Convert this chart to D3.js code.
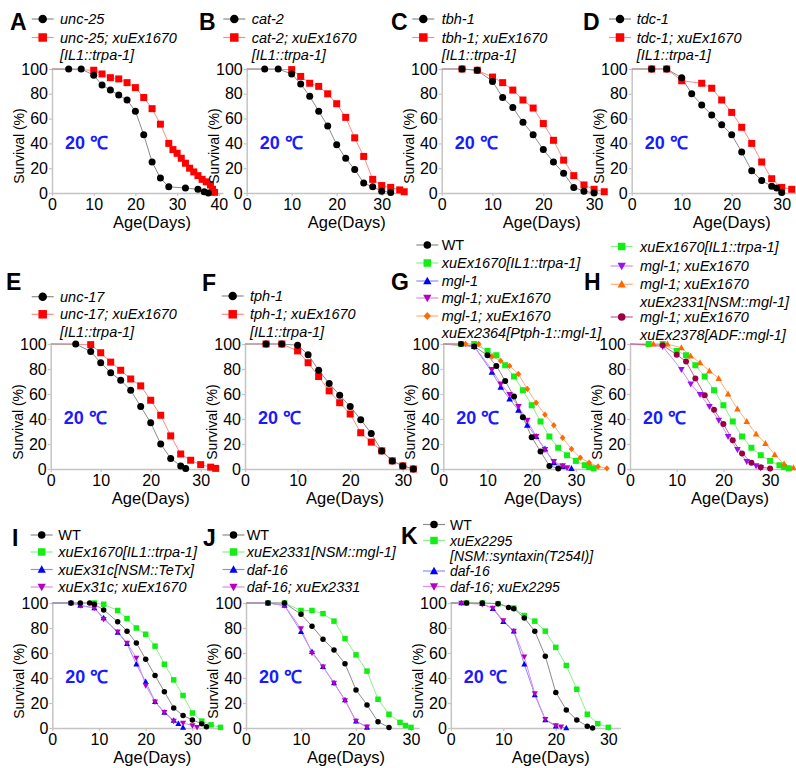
<!DOCTYPE html>
<html>
<head>
<meta charset="utf-8">
<script src="https://cdn.jsdelivr.net/npm/d3@7"></script>
<style>
  body { margin: 0; background: #fff; }
  svg { display: block; }
  text { font-family: "Liberation Sans", Arial, sans-serif; }
</style>
</head>
<body>
<div id="chart"></div>
<script>
// Survival curves, [day, % alive]

// A
const aUnc25 = [[0,100],[4,100],[7,100],[10,95],[12,87],[14,83],[16,79],[18,75],[20,66],[22,47],[24,25],[26,12],[28,5],[32,4],[35,3],[36.5,1],[37.5,0]];
const aUnc25Ex = [[0,100],[10,99],[12,96],[14,93],[16,92],[18,89],[20,85],[22,77],[24,68],[26,55.5],[28,40],[29,35],[30,32],[31,28],[32,24],[33,20],[34,17],[35,14],[36,11],[37,9],[38,6.5],[38.5,3],[39,0.5]];
// B
const bCat2 = [[0,100],[4,100],[7,100],[10,96],[12,88],[14,78],[16,66],[18,54],[20,39],[22,28],[24,19],[26,8],[28,5],[30,1.5],[32,0.5]];
const bCat2Ex = [[0,100],[10,99.5],[12,94],[14,88.5],[16,86],[18,80],[20,72],[22,61],[24,44.5],[26,29.5],[28,11],[30,6],[32,4.5],[34,2.5],[35,1]];
// C
const cTbh1 = [[0,100],[4,100],[7,99],[10,90],[12,77],[14,69],[16,57],[18,47],[20,35],[22,25],[24,16],[26,4.5],[28,1.5],[30,0]];
const cTbh1Ex = [[0,100],[4,100],[7,99],[10,93.5],[12,89],[14,83],[16,75],[18,68.5],[20,56],[22,42.5],[24,26.5],[26,14],[28,6.5],[30,3],[32,1]];
// D
const dTdc1 = [[0,100],[4,100],[7,100],[10,93],[12,80],[14,71],[16,63],[18,55],[20,47],[22,33],[24,18],[26,10],[28,5.5],[29,4],[30,0.5]];
const dTdc1Ex = [[0,100],[4,100],[7,100],[10,90.5],[14,88.5],[16,84.5],[18,75],[20,65],[22,53],[24,40],[26,25],[28,11.5],[30,4.5],[32,3]];
// E
const eUnc17 = [[0,100],[5,100],[8,94],[10,85],[12,77],[14,71],[16,63],[18,50],[20,37],[22,20],[24,8.5],[26,2.5],[27,0.5]];
const eUnc17Ex = [[0,100],[8,99.5],[10,93],[12,85.5],[14,79],[16,72],[18,66.5],[20,55],[22,43],[24,26.5],[26,12],[28,7],[30,3.5],[32,1.5],[33,0.5]];
// F
const fTph1 = [[0,100],[4,100],[7,100],[10,99],[12,91.5],[14,79],[16,68.5],[18,59],[20,50],[22,39.5],[24,28.5],[26,14.5],[28,6.5],[30,2.5],[32,0]];
const fTph1Ex = [[0,100],[4,100],[7,100],[10,94.5],[12,85],[14,74],[16,62.5],[18,53],[20,44],[22,29],[24,21.5],[26,14.5],[28,6.5],[30,2.5],[32,0]];
// G and H (shared strains)
const ghWT = [[0,100],[4,100],[7,98],[10,91],[12,82.5],[14,70.5],[16,58],[18,41.5],[20,25.5],[22,14],[24,2.5],[26,0.5]];
const ghTrpa = [[0,100],[4,100],[7,100],[10,94.5],[12,91],[14,83],[16,74],[18,63],[20,51],[22,38],[24,26],[26,17],[28,11],[30,6.5],[32,3],[33,1.5],[34,0.5]];
const gMgl1 = [[0,100],[7,98],[11,77.5],[13,65.5],[15,56],[17,47],[19,35],[21,26],[23,16],[25,5],[27,2],[29,0.5]];
const ghMglTrpa = [[0,100],[7,98],[11,79.5],[13,68],[15,59.5],[17,50],[19,39],[21,26],[23,15.5],[25,6],[27,2.5],[28,1]];
const gRescueTph = [[0,100],[5,100],[8,100],[11,90],[13,86.5],[15,82.5],[17,76],[19,64],[21,53],[23,43.5],[25,35],[27,25],[29,16],[31,9],[33,5],[35,2],[37,0.5]];
const hRescueNsm = [[0,100],[5,100],[8,100],[11,97],[13,90.5],[15,85],[17,78.5],[19,72.5],[21,60],[23,48],[25,38],[27,28],[29,20.5],[31,11.5],[33,4],[35,1]];
const hRescueAdf = [[0,100],[7,99],[10,91.5],[12,86],[14,72.5],[16,59],[18,47.5],[20,36],[22,23],[24,12.5],[26,5],[28,1.5],[30,0.5]];
// I
const iWT = [[0,100],[4,100],[6,100],[8,100],[9,99],[11,94.5],[14,85],[16,77.5],[18,68],[20,55],[22,42],[24,29],[26,16],[28,10],[30,6.5],[32,3.5],[33,1]];
const iTrpa = [[0,100],[9,100],[11,99],[14,94],[16,87.5],[18,80],[20,75],[22,65.5],[24,51],[26,38.5],[28,26],[30,12],[32,5.5],[34,2.5],[36,0.5]];
const iTeTx = [[0,100],[4,100],[6,98],[9,96],[11,88],[14,76.5],[16,67.5],[18,51],[20,37],[22,21],[24,12.5],[26,6],[27,3.5],[28,0.5]];
const iTeTxTrpa = [[0,100],[4,100],[6,98],[9,96],[11,87],[14,77],[16,68],[18,56],[20,34],[22,21],[24,12.5],[26,5.5],[28,4],[30,2],[31,0.5]];
// J
const jWT = [[0,100],[4,100],[7,100],[10,91],[12,81.5],[14,71],[16,62.5],[18,51.5],[20,30.5],[22,18.5],[24,5],[26,0.5]];
const jMglNsm = [[0,100],[4,100],[7,100],[10,94],[12,94],[14,91.5],[16,85.5],[18,71.5],[20,58.5],[22,45.5],[24,23],[26,11],[28,4.5],[29,2],[30,0.5]];
const jDaf16 = [[0,100],[4,100],[7,98],[10,77],[12,61],[14,49],[16,36],[18,22.5],[20,5.5],[22,0.5]];
const jDaf16Ex = [[0,100],[4,100],[7,98],[10,79.5],[12,60],[14,49],[16,36],[18,22],[20,5.5],[22,1]];
// K
const kWT = [[0,100],[3,100],[6,100],[9,99.5],[11,96.5],[12,95.5],[14,88],[16,77.5],[18,57.5],[20,28.5],[22,14.5],[24,6.5],[26,1.5],[27,0]];
const kSyntaxin = [[0,100],[3,100],[6,100],[9,99.5],[12,96],[14,90],[16,85.5],[18,77.5],[20,64.5],[22,50],[24,31],[26,11],[28,3.5],[30,0.5]];
const kDaf16 = [[0,100],[2,100],[6,99.5],[8,95.5],[10,85],[12,77.5],[14,51],[16,26.5],[18,6.5],[20,1.5],[22,0]];
const kDaf16Ex = [[0,100],[2,100],[6,99],[8,96],[10,86],[12,77.5],[14,57],[16,27.5],[18,7],[20,2],[21,1]];

const yTicks = [0, 20, 40, 60, 80, 100];

const styles = {
  black:   { shape: "circle",  fill: "#000000", line: "#8c8c8c" },
  red:     { shape: "square",  fill: "#ff0000", line: "#ff8a8a" },
  green:   { shape: "square",  fill: "#11ee11", line: "#8cef8c" },
  blue:    { shape: "tri",     fill: "#0000ff", line: "#8c8cff" },
  magenta: { shape: "tridown", fill: "#b400c0", line: "#e08ce8" },
  violet:  { shape: "tridown", fill: "#9a10f0", line: "#c890f8" },
  orangeD: { shape: "diamond", fill: "#ff6a00", line: "#ffb080" },
  orangeT: { shape: "tri",     fill: "#ff6a00", line: "#ffb080" },
  maroon:  { shape: "circle",  fill: "#990044", line: "#c8608c" }
};

const rows = [
  { top: 69,  bottom: 193 },
  { top: 344, bottom: 469 },
  { top: 603, bottom: 728 }
];

const panels = [
  { letter: "A", lx: 10, ly: 30, row: 0, x0: 52, k: 4.17, xMax: 41, ticks: [0,10,20,30,40], ms: 7,
    series: [["red", aUnc25Ex], ["black", aUnc25]],
    legend: { mx: 42.7, tx: 60, ms: 8.5, items: [[19, "black", "unc-25"], [37.5, "red", "unc-25; xuEx1670"], [54.5, null, "[IL1::trpa-1]"]] } },
  { letter: "B", lx: 199, ly: 30, row: 0, x0: 246.7, k: 4.5, xMax: 35.3, ticks: [0,10,20,30], ms: 7,
    series: [["red", bCat2Ex], ["black", bCat2]],
    legend: { mx: 234.3, tx: 251.7, ms: 8.5, items: [[19, "black", "cat-2"], [37.5, "red", "cat-2; xuEx1670"], [54.5, null, "[IL1::trpa-1]"]] } },
  { letter: "C", lx: 391, ly: 30, row: 0, x0: 441.7, k: 5.08, xMax: 32.5, ticks: [0,10,20,30], ms: 7,
    series: [["red", cTbh1Ex], ["black", cTbh1]],
    legend: { mx: 423.3, tx: 441.7, ms: 8.5, items: [[19, "black", "tbh-1"], [37.5, "red", "tbh-1; xuEx1670"], [54.5, null, "[IL1::trpa-1]"]] } },
  { letter: "D", lx: 583, ly: 30, row: 0, x0: 631.7, k: 5.0, xMax: 34, ticks: [0,10,20,30], ms: 7,
    series: [["red", dTdc1Ex], ["black", dTdc1]],
    legend: { mx: 620, tx: 636.7, ms: 8.5, items: [[19, "black", "tdc-1"], [37.5, "red", "tdc-1; xuEx1670"], [54.5, null, "[IL1::trpa-1]"]] } },

  { letter: "E", lx: 6, ly: 290, row: 1, x0: 50.7, k: 5.0, xMax: 33.2, ticks: [0,10,20,30], ms: 7,
    series: [["red", eUnc17Ex], ["black", eUnc17]],
    legend: { mx: 42.7, tx: 60, ms: 8.5, items: [[296.7, "black", "unc-17"], [314.3, "red", "unc-17; xuEx1670"], [331.7, null, "[IL1::trpa-1]"]] } },
  { letter: "F", lx: 202, ly: 291, row: 1, x0: 245, k: 5.26, xMax: 32.5, ticks: [0,10,20,30], ms: 7,
    series: [["red", fTph1Ex], ["black", fTph1]],
    legend: { mx: 232.7, tx: 250, ms: 8.5, items: [[296, "black", "tph-1"], [314.3, "red", "tph-1; xuEx1670"], [331.7, null, "[IL1::trpa-1]"]] } },
  { letter: "G", lx: 391, ly: 290, row: 1, x0: 443.3, k: 4.42, xMax: 36.5, ticks: [0,10,20,30], ms: 6,
    series: [["green", ghTrpa], ["blue", gMgl1], ["magenta", ghMglTrpa], ["orangeD", gRescueTph], ["black", ghWT]],
    legend: { mx: 427.3, tx: 441.7, ms: 7.5, items: [[245, "black", "WT"], [263, "green", "xuEx1670[IL1::trpa-1]"], [281, "blue", "mgl-1"],
      [298, "magenta", "mgl-1; xuEx1670"], [316, "orangeD", "mgl-1; xuEx1670"], [333.3, null, "xuEx2364[Ptph-1::mgl-1]"]] } },
  { letter: "H", lx: 584, ly: 290, row: 1, x0: 630, k: 4.67, xMax: 36, ticks: [0,10,20,30], ms: 6,
    series: [["green", ghTrpa], ["violet", ghMglTrpa], ["orangeT", hRescueNsm], ["maroon", hRescueAdf]],
    legend: { mx: 621.7, tx: 640, ms: 7.5, items: [[246.5, "green", "xuEx1670[IL1::trpa-1]"], [266, "violet", "mgl-1; xuEx1670"],
      [284.3, "orangeT", "mgl-1; xuEx1670"], [302, null, "xuEx2331[NSM::mgl-1]"], [317, "maroon", "mgl-1; xuEx1670"], [335, null, "xuEx2378[ADF::mgl-1]"]] } },

  { letter: "I", lx: 12, ly: 546, row: 2, x0: 52.3, k: 4.67, xMax: 36.5, ticks: [0,10,20,30], ms: 5.5,
    series: [["green", iTrpa], ["blue", iTeTx], ["magenta", iTeTxTrpa], ["black", iWT]],
    legend: { mx: 41.7, tx: 58.3, ms: 7.5, items: [[535, "black", "WT"], [552, "green", "xuEx1670[IL1::trpa-1]"],
      [569.5, "blue", "xuEx31c[NSM::TeTx]"], [587, "magenta", "xuEx31c; xuEx1670"]] } },
  { letter: "J", lx: 203, ly: 546, row: 2, x0: 246, k: 5.5, xMax: 31.5, ticks: [0,10,20,30], ms: 5.5,
    series: [["green", jMglNsm], ["blue", jDaf16], ["magenta", jDaf16Ex], ["black", jWT]],
    legend: { mx: 233.5, tx: 246.7, ms: 7.5, items: [[535, "black", "WT"], [552, "green", "xuEx2331[NSM::mgl-1]"],
      [569.5, "blue", "daf-16"], [587, "magenta", "daf-16; xuEx2331"]] } },
  { letter: "K", lx: 401, ly: 544, row: 2, x0: 450.8, k: 5.25, xMax: 32.3, ticks: [0,10,20,30], ms: 5.5,
    series: [["green", kSyntaxin], ["blue", kDaf16], ["magenta", kDaf16Ex], ["black", kWT]],
    legend: { mx: 434, tx: 450, ms: 7.5, items: [[524.5, "black", "WT"], [540.5, "green", "xuEx2295"], [555.5, null, "[NSM::syntaxin(T254I)]"],
      [571, "blue", "daf-16"], [586.5, "magenta", "daf-16; xuEx2295"]] } }
];

const svg = d3.select("#chart").append("svg")
  .attr("width", 796)
  .attr("height", 768);

// draw one marker shape of nominal width s
function marker(g, shape, cx, cy, s, fill) {
  const h = s / 2;
  if (shape === "circle") {
    g.append("circle").attr("cx", cx).attr("cy", cy).attr("r", h).attr("fill", fill);
    return;
  }
  if (shape === "square") {
    g.append("rect").attr("x", cx - h).attr("y", cy - h).attr("width", s).attr("height", s).attr("fill", fill);
    return;
  }
  let pts;
  if (shape === "tri") pts = [[cx, cy - h * 1.15], [cx + h * 1.1, cy + h * 0.85], [cx - h * 1.1, cy + h * 0.85]];
  else if (shape === "tridown") pts = [[cx, cy + h * 1.15], [cx + h * 1.1, cy - h * 0.85], [cx - h * 1.1, cy - h * 0.85]];
  else pts = [[cx, cy - h * 1.05], [cx + h * 0.95, cy], [cx, cy + h * 1.05], [cx - h * 0.95, cy]];
  g.append("path").attr("d", "M" + pts.map(p => p.join(",")).join("L") + "Z").attr("fill", fill);
}

panels.forEach(p => {
  const r = rows[p.row];
  const g = svg.append("g");

  const x = d3.scaleLinear().domain([0, p.xMax]).range([p.x0, p.x0 + p.xMax * p.k]);
  const y = d3.scaleLinear().domain([0, 100]).range([r.bottom, r.top]);

  // axes
  const ax = g.append("g")
    .attr("transform", `translate(0,${r.bottom})`)
    .call(d3.axisBottom(x).tickValues(p.ticks).tickSizeInner(3).tickSizeOuter(0).tickPadding(3));
  const ay = g.append("g")
    .attr("transform", `translate(${p.x0},0)`)
    .call(d3.axisLeft(y).tickValues(yTicks).tickSizeInner(3).tickSizeOuter(0).tickPadding(1));
  [ax, ay].forEach(a => {
    a.select(".domain").attr("stroke", "#c4c4c4").attr("stroke-width", 1.5);
    a.selectAll(".tick line").attr("stroke", "#c4c4c4").attr("stroke-width", 1.2);
    a.selectAll(".tick text")
      .attr("fill", "#000")
      .style("font-size", "16px")
      .style("font-family", "'Liberation Sans', Arial, sans-serif");
  });

  // axis titles
  g.append("text")
    .attr("transform", `translate(${p.x0 - 33},${r.bottom - 47}) rotate(-90)`)
    .attr("text-anchor", "middle")
    .attr("dy", "0.35em")
    .style("font-size", "14px")
    .text("Survival (%)");
  g.append("text")
    .attr("x", p.x0 + 100)
    .attr("y", r.bottom + 35)
    .attr("text-anchor", "middle")
    .style("font-size", "16.5px")
    .text("Age(Days)");

  // temperature tag
  g.append("text")
    .attr("x", p.x0 + 13)
    .attr("y", y(41) + 6.5)
    .attr("fill", "#1a1aff")
    .style("font-size", "18px")
    .style("font-weight", "bold")
    .text("20 ℃");

  // curves
  const line = d3.line().x(d => x(d[0])).y(d => y(d[1]));
  p.series.forEach(([key, data]) => {
    const st = styles[key];
    g.append("path")
      .datum(data)
      .attr("d", line)
      .attr("fill", "none")
      .attr("stroke", st.line)
      .attr("stroke-width", 1);
  });
  p.series.forEach(([key, data]) => {
    const st = styles[key];
    data.filter(d => d[0] > 0).forEach(d => marker(g, st.shape, x(d[0]), y(d[1]), p.ms, st.fill));
  });

  // panel letter
  svg.append("text")
    .attr("x", p.lx)
    .attr("y", p.ly)
    .style("font-size", "23px")
    .style("font-weight", "bold")
    .text(p.letter);

  // legend
  const lg = p.legend;
  lg.items.forEach(([cy, key, label]) => {
    if (key) {
      const st = styles[key];
      svg.append("line")
        .attr("x1", lg.mx - 11).attr("x2", lg.mx + 11)
        .attr("y1", cy).attr("y2", cy)
        .attr("stroke", st.line).attr("stroke-width", 1.2);
      marker(svg, st.shape, lg.mx, cy, lg.ms, st.fill);
    }
    svg.append("text")
      .attr("x", lg.tx)
      .attr("y", cy + 5)
      .style("font-size", p.letter === "K" ? "14px" : "14.5px")
      .style("font-style", label === "WT" ? "normal" : "italic")
      .text(label);
  });
});
</script>
</body>
</html>
